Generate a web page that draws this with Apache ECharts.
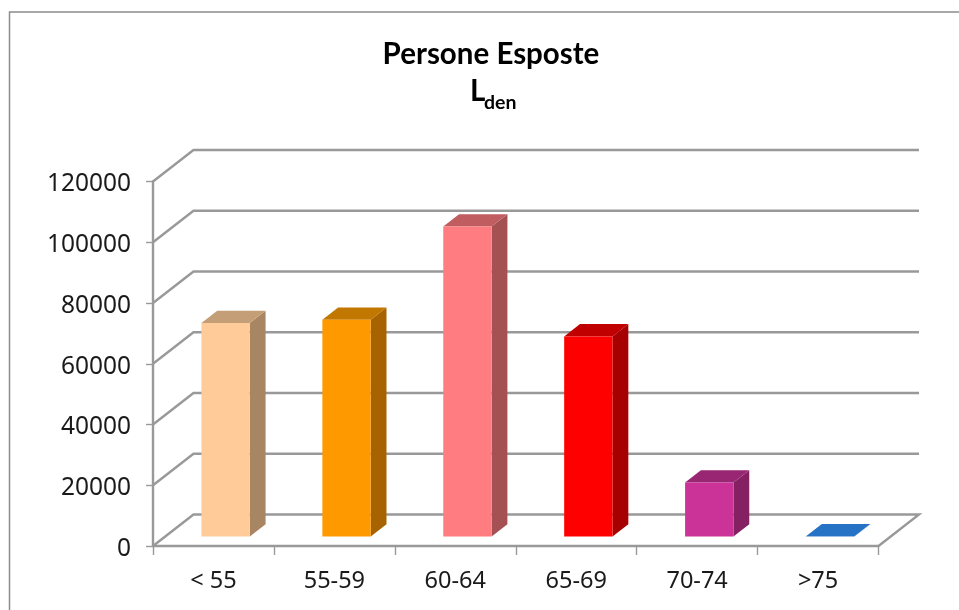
<!DOCTYPE html>
<html>
<head>
<meta charset="utf-8">
<style>html,body{margin:0;padding:0;background:#fff}#c{width:959px;height:610px}</style>
<script src="https://cdn.jsdelivr.net/npm/echarts@6/dist/echarts.min.js"></script>
</head>
<body>
<div id="c"></div>
<script>
const categories = ['< 55', '55-59', '60-64', '65-69', '70-74', '>75'];
const personeEsposte = [70300, 71400, 102100, 65900, 17800, 100];
const yTicks = [0, 20000, 40000, 60000, 80000, 100000, 120000];
const frontColors = ['#FFCC99', '#FF9900', '#FF7C80', '#FF0000', '#CC3399', '#2672C4'];
const sideColors = ['#A88563', '#A66300', '#A55154', '#A60000', '#852163', '#1A4F88'];
const topColors = ['#C49E76', '#C27700', '#BF5D60', '#C00000', '#992673', '#2672C4'];

const DEPTH_X = 40.5, DEPTH_Y = 31.5;     // wall depth in pixels
const BAR_NEAR = 0.3, BAR_DEPTH = 0.39;   // bar position in the depth
const BAR_WIDTH = 0.4;                    // share of a category
const GREY = '#999999';

const chart = echarts.init(document.getElementById('c'), null, {renderer: 'canvas'});

function renderWall(params, api) {
  const v = api.value(1);
  const p = api.coord([0, v]);
  const cw = api.size([1, 0])[0];
  const x0 = p[0] - cw / 2, y = p[1];
  const x1 = x0 + cw * categories.length;
  const pts = [[x0, y], [x0 + DEPTH_X, y - DEPTH_Y], [x1 + DEPTH_X, y - DEPTH_Y]];
  if (v === 0) pts.push([x1, y]);
  return {
    type: 'polyline',
    shape: {points: pts},
    style: {fill: null, stroke: GREY, lineWidth: 2.4}
  };
}

function renderBar(params, api) {
  const i = api.value(0), v = api.value(1);
  const base = api.coord([i, 0]);
  const top = api.coord([i, v]);
  const cw = api.size([1, 0])[0];
  const w = cw * BAR_WIDTH;
  const sx = DEPTH_X * BAR_NEAR, sy = DEPTH_Y * BAR_NEAR;
  const dx = DEPTH_X * BAR_DEPTH, dy = DEPTH_Y * BAR_DEPTH;
  const l = base[0] - w / 2 + sx, r = l + w;
  const b = base[1] - sy, t = top[1] - sy;
  return {
    type: 'group',
    children: [
      {type: 'polygon', shape: {points: [[r, b], [r + dx, b - dy], [r + dx, t - dy], [r, t]]},
        style: {fill: sideColors[i]}},
      {type: 'polygon', shape: {points: [[l, t], [r, t], [r + dx, t - dy], [l + dx, t - dy]]},
        style: {fill: topColors[i]}},
      {type: 'rect', shape: {x: l, y: t, width: w, height: b - t},
        style: {fill: frontColors[i]}}
    ]
  };
}

chart.setOption({
  animation: false,
  backgroundColor: '#fff',
  graphic: [{
    type: 'polyline', silent: true, z: 0,
    shape: {points: [[9.5, 612], [9.5, 12], [961, 12]]},
    style: {fill: null, stroke: '#8c8c8c', lineWidth: 1.5}
  }],
  title: [{
    text: 'Persone Esposte',
    left: 486, top: 34, textAlign: 'center',
    textStyle: {fontFamily: 'Lato', fontWeight: 'bold', fontSize: 29.5, color: '#000'}
  }, {
    text: 'L',
    left: 465, top: 71, textAlign: 'left',
    textStyle: {fontFamily: 'Lato', fontWeight: 'bold', fontSize: 29.5, color: '#000'}
  }, {
    text: 'den',
    left: 479, top: 88, textAlign: 'left',
    textStyle: {fontFamily: 'Lato', fontWeight: 'bold', fontSize: 19.5, color: '#000'}
  }],
  grid: {left: 153, top: 181.5, width: 725.5, height: 364.5, containLabel: false},
  xAxis: {
    type: 'category',
    data: categories,
    axisLine: {lineStyle: {color: GREY, width: 2.4}},
    axisTick: {show: true, length: 9, lineStyle: {color: GREY, width: 1.4}},
    axisLabel: {color: '#1a1a1a', fontFamily: 'Noto Sans', fontSize: 23.5, margin: 23}
  },
  yAxis: {
    type: 'value',
    min: 0, max: 120000, interval: 20000,
    axisLine: {show: true, lineStyle: {color: GREY, width: 2.4}},
    axisTick: {show: true, length: 7, lineStyle: {color: GREY, width: 1.4}},
    axisLabel: {color: '#1a1a1a', fontFamily: 'Noto Sans', fontSize: 24.5, margin: 22, verticalAlign: 'top', lineHeight: 6,
      formatter: v => String(v)},
    splitLine: {show: false}
  },
  series: [{
    type: 'custom',
    name: 'walls',
    z: 1,
    clip: false,
    silent: true,
    renderItem: renderWall,
    data: yTicks.map(v => [0, v])
  }, {
    type: 'custom',
    name: 'Persone Esposte',
    z: 3,
    clip: false,
    renderItem: renderBar,
    data: personeEsposte.map((v, i) => [i, v])
  }]
});
</script>
</body>
</html>
